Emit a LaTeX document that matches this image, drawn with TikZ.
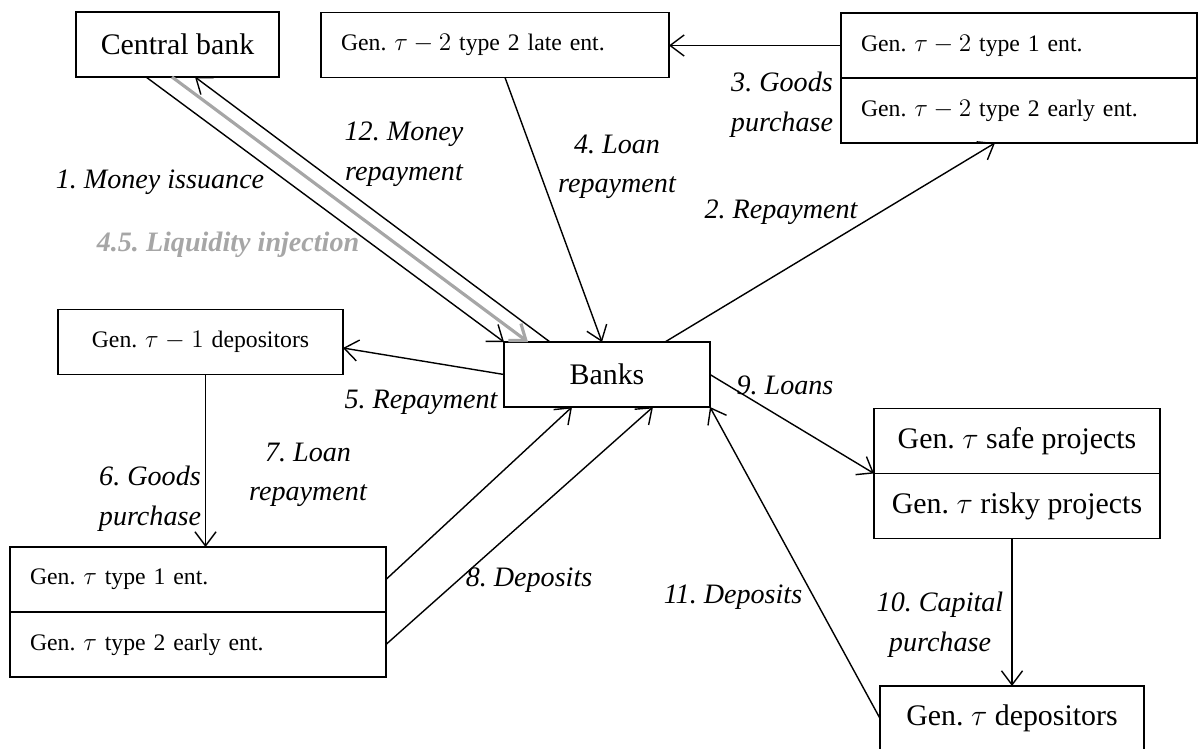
\documentclass[tikz,border=0pt]{standalone}
\usepackage{fontspec}
\setmainfont{Liberation Serif}
\usepackage{amsmath}
\usetikzlibrary{positioning,arrows.meta}
\frenchspacing

\begin{document}
\begin{tikzpicture}[
    x=0.02cm, y=-0.02cm,
    bigbox/.style={draw, line width=1pt, outer sep=0pt, inner sep=0pt, minimum height=1.3cm, font=\fontsize{17}{20}\selectfont},
    smallbox/.style={draw, line width=1pt, outer sep=0pt, inner xsep=0.4cm, inner ysep=0pt, minimum height=1.3cm, text width=#1, align=left, font=\fontsize{13.5}{16}\selectfont},
    flow/.style={line width=0.8pt, -{Straight Barb[length=8pt, width=12pt]}},
    lab/.style={align=center, font=\fontsize{16}{22.5}\selectfont\itshape}
    ]
        \useasboundingbox (0,0) rectangle (1198,749);

        %Nodes
        \node[bigbox, minimum width=4.06cm]
            (cb)    at (177.5,44.5)    {Central bank};
        \node[smallbox=6.16cm]
            (late)  at (495,45)        {Gen. $\tau-2$ type 2 late ent.};
        \node[smallbox=6.32cm]
            (t2one) at (1019,45.5)     {Gen. $\tau-2$ type 1 ent.};
        \node[smallbox=6.32cm]
            (t2early) [below=0pt of t2one]   {Gen. $\tau-2$ type 2 early ent.};
        \node[smallbox=4.9cm, align=center]
            (dep1)  at (200.5,342)     {Gen. $\tau-1$ depositors};
        \node[bigbox, minimum width=4.12cm]
            (banks) at (607,374.5)     {Banks};
        \node[smallbox=6.72cm]
            (ent1)  at (198,579.5)     {Gen. $\tau$ type 1 ent.};
        \node[smallbox=6.72cm]
            (ent2)  [below=0pt of ent1]      {Gen. $\tau$ type 2 early ent.};
        \node[bigbox, minimum width=5.72cm]
            (safe)  at (1017,441)      {Gen. $\tau$ safe projects};
        \node[bigbox, minimum width=5.72cm]
            (risky) [below=0pt of safe]      {Gen. $\tau$ risky projects};
        \node[bigbox, minimum width=5.28cm]
            (dept)  at (1012,718.5)    {Gen. $\tau$ depositors};

        %Lines
        \draw[flow]
            ([xshift=1.4cm]cb.south west) -- (banks.north west);
        \draw[flow, draw=black!35, line width=1.8pt]
            ([xshift=1.92cm]cb.south west) -- ([xshift=0.48cm]banks.north west);
        \draw[flow]
            ([xshift=0.92cm]banks.north west) -- ([xshift=2.38cm]cb.south west);
        \draw[flow]
            ([xshift=3.68cm]late.south west) -- ([xshift=1.96cm]banks.north west);
        \draw[flow]
            ([xshift=-0.9cm]banks.north east) -- ([xshift=3.08cm]t2early.south west);
        \draw[flow]
            (t2one.west) -- (t2one.west -| late.east);
        \draw[flow]
            (banks.west) -- ([yshift=-0.12cm]dep1.east);
        \draw[flow]
            ([xshift=0.1cm]dep1.south) -- ([xshift=0.1cm]dep1.south |- ent1.north);
        \draw[flow]
            (ent1.east) -- ([xshift=1.36cm]banks.south west);
        \draw[flow]
            (ent2.east) -- ([xshift=2.98cm]banks.south west);
        \draw[flow]
            (banks.east) -- (safe.south west);
        \draw[flow]
            (risky.south -| dept.north) -- (dept.north);
        \draw[flow]
            (dept.west) -- (banks.south east);

        %Labels
        \node[lab] (l1)  at (160,182)  {1. Money issuance};
        \node[lab, text=black!35, font=\fontsize{16}{22.5}\selectfont\bfseries\itshape]
                   (l45) at (228,245)  {4.5. Liquidity injection};
        \node[lab] (l12) at (404,154)  {12. Money\\repayment};
        \node[lab] (l4)  at (617,167)  {4. Loan\\repayment};
        \node[lab] (l3)  at (782,105)  {3. Goods\\purchase};
        \node[lab] (l2)  at (781,212)  {2. Repayment};
        \node[lab] (l5)  at (421,402)  {5. Repayment};
        \node[lab] (l6)  at (150,499)  {6. Goods\\purchase};
        \node[lab] (l7)  at (308,475)  {7. Loan\\repayment};
        \node[lab] (l8)  at (529,580)  {8. Deposits};
        \node[lab] (l9)  at (785,385)  {9. Loans};
        \node[lab] (l10) at (940,625)  {10. Capital\\purchase};
        \node[lab] (l11) at (733,597)  {11. Deposits};
    \end{tikzpicture}
\end{document}
